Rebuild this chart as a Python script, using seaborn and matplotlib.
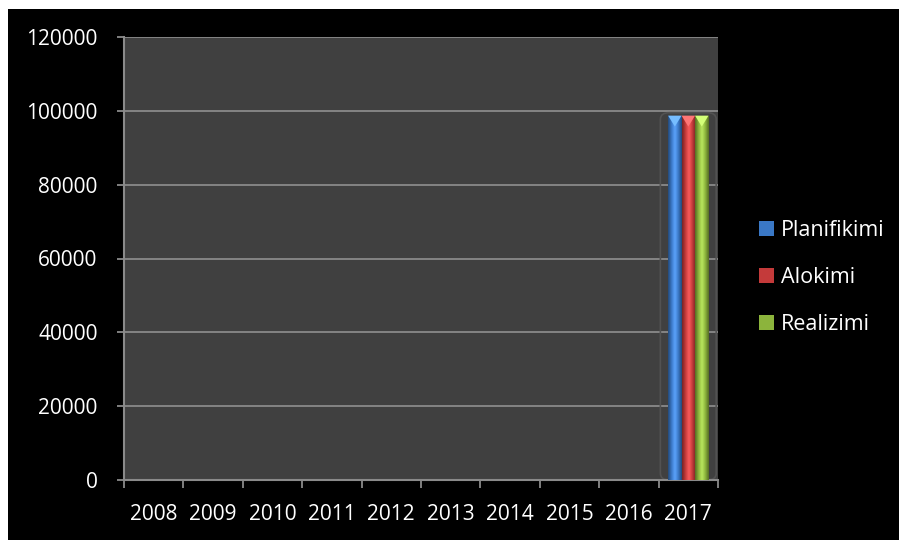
import numpy as np
import pandas as pd
import matplotlib
matplotlib.use("Agg")
import matplotlib.pyplot as plt
from matplotlib.patches import Rectangle, FancyBboxPatch, Polygon
from matplotlib.colors import LinearSegmentedColormap, to_rgb
import seaborn as sns

years = ["2008", "2009", "2010", "2011", "2012", "2013", "2014", "2015", "2016", "2017"]
planifikimi = [0, 0, 0, 0, 0, 0, 0, 0, 0, 98700]
alokimi = [0, 0, 0, 0, 0, 0, 0, 0, 0, 98700]
realizimi = [0, 0, 0, 0, 0, 0, 0, 0, 0, 98700]
series_names = ["Planifikimi", "Alokimi", "Realizimi"]
series_colors = ["#3a78c6", "#c43a3a", "#8cb43c"]
y_ticks = [0, 20000, 40000, 60000, 80000, 100000, 120000]

df = pd.DataFrame({
    "year": years * 3,
    "value": planifikimi + alokimi + realizimi,
    "series": [series_names[0]] * 10 + [series_names[1]] * 10 + [series_names[2]] * 10,
})

sns.set_theme(style="dark")
plt.rcParams["font.family"] = ["Open Sans", "DejaVu Sans"]

W, H = 899, 540
fig = plt.figure(figsize=(W / 100, H / 100), dpi=100)
fig.patch.set_facecolor("white")
fig.add_artist(Rectangle((8 / W, 0), 1 - 8 / W, 1 - 9 / H, transform=fig.transFigure,
                         facecolor="black", edgecolor="none", zorder=-10))

ax = fig.add_axes([124 / W, 1 - 480 / H, (718 - 124) / W, (480 - 37) / H])
ax.set_facecolor("#404040")

sns.barplot(data=df, x="year", y="value", hue="series", palette=series_colors,
            width=0.68, linewidth=0, ax=ax, legend=False, zorder=3)

ax.set_ylim(0, 120000)
ax.set_xlim(-0.5, len(years) - 0.5)
ax.set_yticks(y_ticks)
ax.set_yticklabels([str(v) for v in y_ticks])
ax.set_xlabel("")
ax.set_ylabel("")

grid_col = "#8a8a8a"
ax.grid(False)
for v in y_ticks[1:]:
    ax.axhline(v, color=grid_col, linewidth=1.3, zorder=1)

for side in ["top", "right"]:
    ax.spines[side].set_visible(False)
for side in ["left", "bottom"]:
    ax.spines[side].set_visible(True)
    ax.spines[side].set_color(grid_col)
    ax.spines[side].set_linewidth(1.5)

ax.tick_params(axis="y", which="major", length=5, width=1.3, color=grid_col,
               labelcolor="white", labelsize=15, pad=14, left=True)
ax.tick_params(axis="x", which="major", length=0, labelcolor="white", labelsize=15, pad=17)
ax.set_xticks(np.arange(-0.5, len(years)), minor=True)
ax.tick_params(axis="x", which="minor", length=6, width=1.3, color=grid_col, bottom=True)

# cylinder-style shading on each bar, with a light pyramid cap on top
bar_patches = [p for p in ax.patches]
for patch, col in zip(bar_patches, [c for c in series_colors for _ in years]):
    h = patch.get_height()
    if h <= 0:
        continue
    x0, w = patch.get_x(), patch.get_width()
    base = np.array(to_rgb(col))
    dark = base * 0.6
    light = np.clip(base * 1.15 + 0.1, 0, 1)
    cmap = LinearSegmentedColormap.from_list("cyl", [dark, base, light, base, dark])
    grad = np.linspace(0, 1, 64).reshape(1, -1)
    im = ax.imshow(grad, cmap=cmap, aspect="auto", extent=[x0, x0 + w, 0, h],
                   zorder=4, interpolation="bicubic")
    im.set_clip_path(patch)
    cap_h = h * 0.03
    ax.add_patch(Polygon([(x0, h), (x0 + w, h), (x0 + w / 2, h - cap_h)], closed=True,
                         facecolor=np.clip(light + 0.1, 0, 1), edgecolor="none", zorder=5))

# faint frame around the filled group of bars
filled = [p for p in bar_patches if p.get_height() > 0]
if filled:
    gx0 = min(p.get_x() for p in filled) - 0.13
    gx1 = max(p.get_x() + p.get_width() for p in filled) + 0.13
    gh = max(p.get_height() for p in filled)
    ax.add_patch(FancyBboxPatch((gx0, 0), gx1 - gx0, gh + 800,
                                boxstyle="round,pad=0,rounding_size=0.15",
                                mutation_aspect=12000, facecolor="none",
                                edgecolor="#525252", linewidth=1.2, zorder=2))
ax.set_ylim(0, 120000)
ax.set_xlim(-0.5, len(years) - 0.5)

handles = [Rectangle((0, 0), 1, 1, facecolor=c, edgecolor="none") for c in series_colors]
fig.legend(handles, series_names, loc="upper left", bbox_to_anchor=(740 / W, 1 - 201 / H),
           frameon=False, labelcolor="white", fontsize=15.5, handlelength=0.7,
           handleheight=0.7, handletextpad=0.3, labelspacing=1.2)

fig.savefig("out.png", dpi=100, facecolor=fig.get_facecolor())
